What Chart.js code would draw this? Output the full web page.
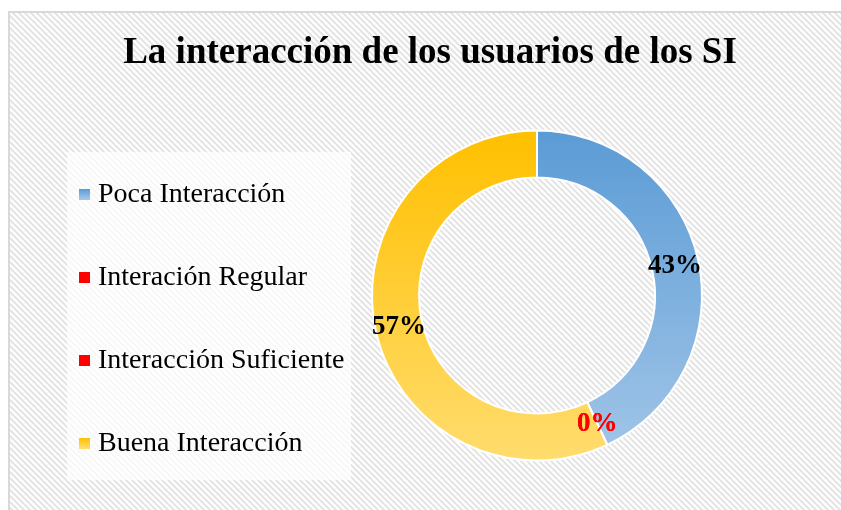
<!DOCTYPE html>
<html>
<head>
<meta charset="utf-8">
<title>La interacción de los usuarios de los SI</title>
<script src="https://cdn.jsdelivr.net/npm/chart.js@4"></script>
<style>
  html, body { margin: 0; padding: 0; background: #ffffff; }
  #wrap { width: 841px; height: 510px; }
</style>
</head>
<body>
<div id="wrap"><canvas id="chart" width="841" height="510"></canvas></div>
<script>
// Chart data
const chartTitle = 'La interacción de los usuarios de los SI';
const categories = ['Poca Interacción', 'Interación Regular', 'Interacción Suficiente', 'Buena Interacción'];
const percentValues = [43, 0, 0, 57];
const labelColors = ['#000000', '#ff0000', '#ff0000', '#000000'];
const gradientTops = ['#5b9bd5', '#ff0000', '#ff0000', '#ffc000'];
const gradientBottoms = ['#a2c6e8', '#ff0000', '#ff0000', '#ffdc6e'];

const serif = '"Liberation Serif", "Times New Roman", serif';
const ringRadius = 165;

// Diagonal hatch used for the chart background
function makeHatch(ctx) {
    const c = document.createElement('canvas');
    c.width = 6; c.height = 6;
    const p = c.getContext('2d');
    p.fillStyle = '#ffffff';
    p.fillRect(0, 0, 6, 6);
    p.strokeStyle = '#e4e4e4';
    p.lineWidth = 2;
    p.beginPath();
    p.moveTo(-1, -1); p.lineTo(7, 7);
    p.moveTo(-4, 2); p.lineTo(4, 10);
    p.moveTo(2, -4); p.lineTo(10, 4);
    p.stroke();
    return ctx.createPattern(c, 'repeat');
}

// Vertical gradient across the ring for each slice
function sliceColor(context) {
    const chart = context.chart;
    const i = context.dataIndex;
    const area = chart.chartArea;
    if (!area || !Number.isFinite(area.top)) return gradientTops[i];
    const cy = (area.top + area.bottom) / 2;
    const g = chart.ctx.createLinearGradient(0, cy - ringRadius, 0, cy + ringRadius);
    g.addColorStop(0, gradientTops[i]);
    g.addColorStop(1, gradientBottoms[i]);
    return g;
}

// Background, frame, title and legend panel
const framePlugin = {
    id: 'frame',
    beforeDraw(chart) {
        const ctx = chart.ctx;
        ctx.save();
        ctx.fillStyle = makeHatch(ctx);
        ctx.fillRect(9, 12, chart.width - 9, chart.height - 12);
        ctx.fillStyle = '#d9d9d9';
        ctx.fillRect(8, 11, chart.width - 8, 2);
        ctx.fillRect(8, 11, 2, chart.height - 11);

        ctx.fillStyle = '#000000';
        ctx.font = 'bold 37px ' + serif;
        ctx.textAlign = 'center';
        ctx.textBaseline = 'alphabetic';
        ctx.fillText(chartTitle, 430, 63);

        // legend panel
        ctx.fillStyle = 'rgba(255,255,255,0.7)';
        ctx.fillRect(67, 152, 284, 328);
        ctx.font = '28px ' + serif;
        ctx.textAlign = 'left';
        ctx.textBaseline = 'middle';
        categories.forEach((name, i) => {
            const y = 194 + i * 83;
            const g = ctx.createLinearGradient(0, y - 5, 0, y + 5);
            g.addColorStop(0, gradientTops[i]);
            g.addColorStop(1, gradientBottoms[i]);
            ctx.fillStyle = g;
            ctx.fillRect(79, y - 5, 11, 11);
            ctx.fillStyle = '#000000';
            ctx.fillText(name, 98, y + 1);
        });
        ctx.restore();
    }
};

// Percent labels in the middle of each ring slice
const sliceLabels = {
    id: 'sliceLabels',
    afterDatasetsDraw(chart) {
        const ctx = chart.ctx;
        const meta = chart.getDatasetMeta(0);
        ctx.save();
        ctx.font = 'bold 27px ' + serif;
        ctx.textAlign = 'center';
        ctx.textBaseline = 'middle';
        meta.data.forEach((arc, i) => {
            const mid = (arc.startAngle + arc.endAngle) / 2;
            const r = (arc.innerRadius + arc.outerRadius) / 2;
            const x = arc.x + Math.cos(mid) * r;
            const y = arc.y + Math.sin(mid) * r;
            ctx.fillStyle = labelColors[i];
            ctx.fillText(percentValues[i] + '%', x, y + 1);
        });
        ctx.restore();
    }
};

new Chart(document.getElementById('chart'), {
    type: 'doughnut',
    data: {
        labels: categories,
        datasets: [{
            data: percentValues,
            backgroundColor: sliceColor,
            borderColor: '#ffffff',
            borderWidth: 2
        }]
    },
    options: {
        responsive: false,
        animation: false,
        radius: ringRadius,
        cutout: '71.5%',
        layout: { padding: { left: 233, top: 81, right: 0, bottom: 0 } },
        plugins: {
            legend: { display: false },
            title: { display: false },
            tooltip: { enabled: false }
        }
    },
    plugins: [framePlugin, sliceLabels]
});
</script>
</body>
</html>
